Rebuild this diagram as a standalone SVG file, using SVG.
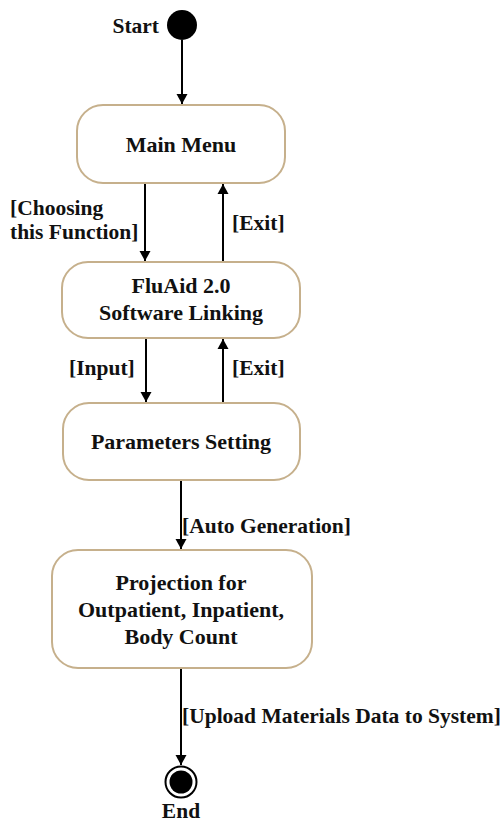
<svg xmlns="http://www.w3.org/2000/svg" width="504" height="830" viewBox="0 0 504 830">
  <style>
    .state { fill: #ffffff; stroke: #c6b08c; stroke-width: 2; }
    .txt { font-family: "Liberation Serif", "Times New Roman", serif; font-weight: bold; font-size: 21.5px; fill: #111111; }
    .name { font-size: 22px; text-anchor: middle; }
    .mid { text-anchor: middle; }
    .edge { stroke: #000000; stroke-width: 2; fill: none; marker-end: url(#arrow); }
  </style>
  <defs>
    <marker id="arrow" viewBox="0 0 10 16" refX="10" refY="8" markerWidth="10" markerHeight="16" markerUnits="userSpaceOnUse" orient="auto">
      <path d="M0,2.5 L10,8 L0,13.5 Z" fill="#000000"/>
    </marker>
  </defs>
  <rect width="504" height="830" fill="#ffffff"/>

  <!-- transitions -->
  <g id="connectors">
    <line class="edge" x1="182" y1="40" x2="182" y2="104"/>
    <line class="edge" x1="145" y1="184" x2="145" y2="261"/>
    <line class="edge" x1="223" y1="262" x2="223" y2="184"/>
    <line class="edge" x1="146" y1="339" x2="146" y2="402"/>
    <line class="edge" x1="223" y1="403" x2="223" y2="339"/>
    <line class="edge" x1="181" y1="480" x2="181" y2="549"/>
    <line class="edge" x1="181" y1="669" x2="181" y2="765"/>
    <text class="txt" x="10" y="215">[Choosing</text>
    <text class="txt" x="10" y="239">this Function]</text>
    <text class="txt" x="232" y="230">[Exit]</text>
    <text class="txt" x="69" y="375">[Input]</text>
    <text class="txt" x="232" y="375">[Exit]</text>
    <text class="txt" x="182" y="533">[Auto Generation]</text>
    <text class="txt" x="182" y="723">[Upload Materials Data to System]</text>
  </g>

  <g id="start">
    <circle cx="182" cy="25" r="15" fill="#000000"/>
    <text class="txt" x="159" y="33" text-anchor="end">Start</text>
  </g>

  <g id="main-menu">
    <rect class="state" x="77" y="105" width="208" height="78" rx="26"/>
    <text class="txt name" x="181" y="152">Main Menu</text>
  </g>

  <g id="fluaid-linking">
    <rect class="state" x="62" y="262" width="238" height="76" rx="26"/>
    <text class="txt name" x="181" y="293">FluAid 2.0</text>
    <text class="txt name" x="181" y="320">Software Linking</text>
  </g>

  <g id="parameters-setting">
    <rect class="state" x="63" y="403" width="237" height="77" rx="26"/>
    <text class="txt name" x="181" y="449">Parameters Setting</text>
  </g>

  <g id="projection">
    <rect class="state" x="52" y="550" width="260" height="118" rx="26"/>
    <text class="txt name" x="181" y="590">Projection for</text>
    <text class="txt name" x="181" y="617">Outpatient, Inpatient,</text>
    <text class="txt name" x="181" y="644">Body Count</text>
  </g>

  <g id="end">
    <circle cx="181" cy="782" r="15.5" fill="#ffffff" stroke="#000000" stroke-width="2"/>
    <circle cx="181" cy="782" r="11.5" fill="#000000"/>
    <text class="txt mid" x="181" y="818">End</text>
  </g>
</svg>
